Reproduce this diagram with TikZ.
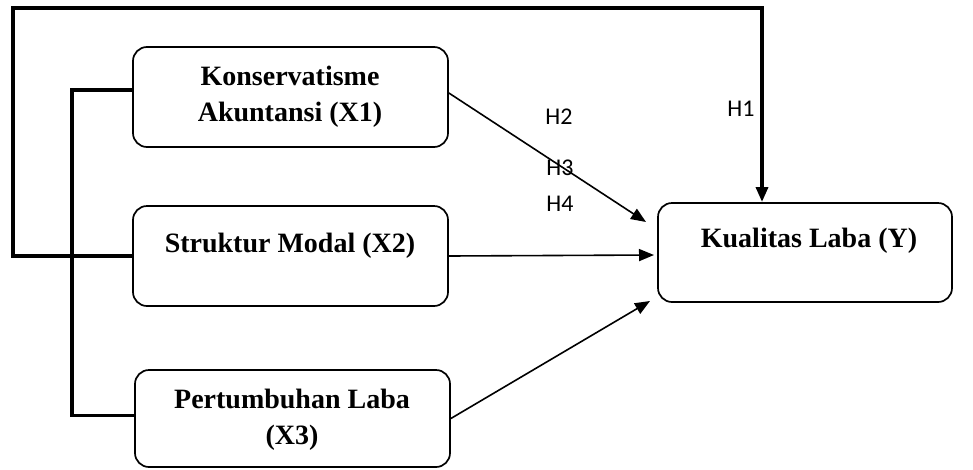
\documentclass[tikz,border=0pt]{standalone}
\usepackage{fontspec}
\setmainfont{Liberation Serif}
\newfontfamily\hfont{Carlito}
\usetikzlibrary{arrows.meta}
\begin{document}
\begin{tikzpicture}[x=1pt,y=-1pt,
  box/.style={draw, line width=1.7pt, rounded corners=14pt, minimum width=315pt, minimum height=100pt, inner sep=0pt},
  btext/.style={font=\fontsize{28}{36}\selectfont\bfseries, align=center, inner sep=0pt},
  hlab/.style={font=\hfont\fontsize{24}{28}\selectfont, inner sep=0pt},
  thin/.style={line width=1.6pt, -{Triangle[length=15pt,width=12pt]}},
  thickl/.style={line width=3.4pt}
]
\useasboundingbox (0,0) rectangle (973,469);
% boxes
\node[box] (x1) at (290.5,97) {};
\node[box] (x2) at (290.5,256) {};
\node[box, minimum height=97pt] (x3) at (292.5,418.5) {};
\node[box, minimum width=294pt, minimum height=99pt] (y) at (805,252.5) {};
% texts
\node[btext] (t1) at (290,97) {Konservatisme\\Akuntansi (X1)};
\node[btext] (t2) at (290,246) {Struktur Modal (X2)};
\node[btext] (t3) at (292,420) {Pertumbuhan Laba\\(X3)};
\node[btext] (ty) at (809,241) {Kualitas Laba (Y)};
% coordinates
\coordinate (tl) at (13,8);
\coordinate (h1end) at (762,202);
\coordinate (e1) at (646,222);
\coordinate (e2) at (654,255);
\coordinate (e3) at (650,301);
% outer H1 path
\draw[thickl, line join=miter, -{Triangle[length=15pt,width=12pt]}] (x2.west) -| (tl) -| (h1end);
% inner bracket
\draw[thickl, line join=miter] ([yshift=7pt]x1.west) -| (72,300) |- ([yshift=3pt]x3.west);
% arrows
\draw[thin] ([yshift=4pt]x1.east) -- (e1);
\draw[thin] (x2.east) -- (e2);
\draw[thin] (x3.east) -- (e3);
% labels
\node[hlab] (h1) at (741,109) {H1};
\node[hlab] (h2) at (559,117) {H2};
\node[hlab] (h3) at (560,168) {H3};
\node[hlab] (h4) at (560,204) {H4};
\end{tikzpicture}
\end{document}
